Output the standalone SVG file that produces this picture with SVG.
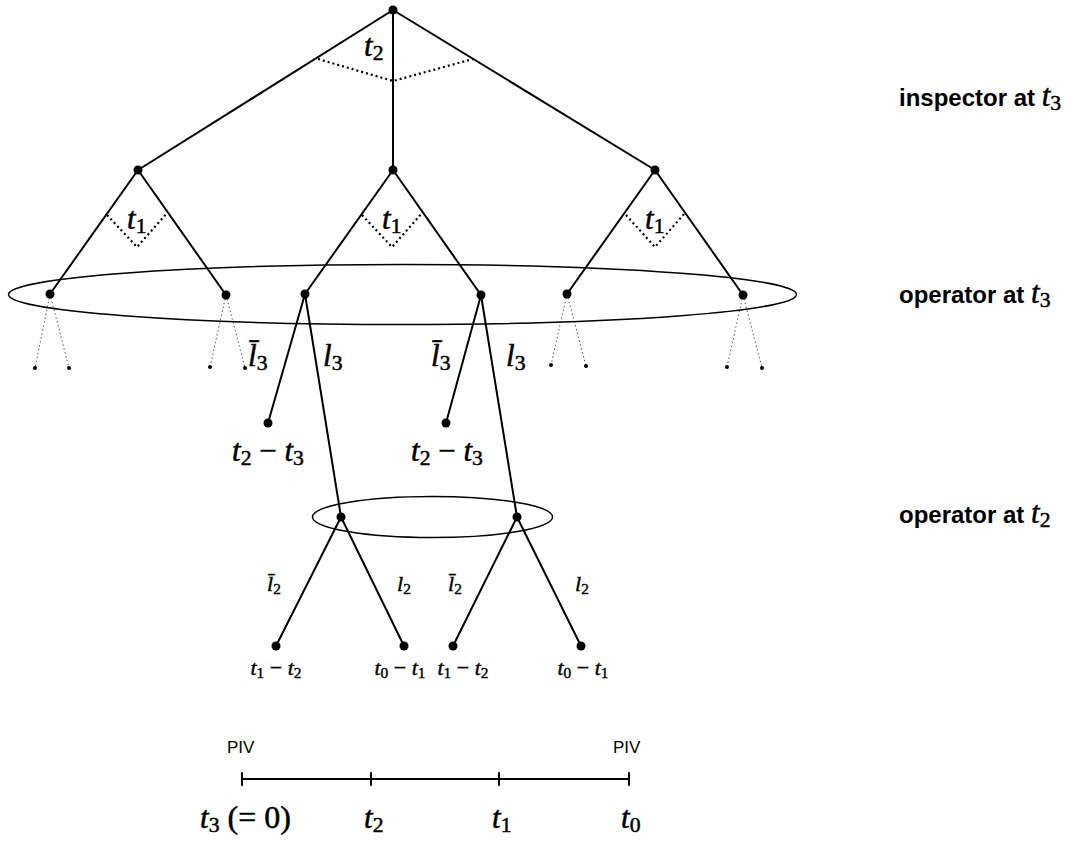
<svg xmlns="http://www.w3.org/2000/svg" width="1075" height="841" viewBox="0 0 1075 841">
<style>
.e{stroke:#000;stroke-width:2;fill:none;stroke-linecap:round}
.dt{stroke:#000;stroke-width:2.2;fill:none;stroke-dasharray:2 3}
.lf{stroke:#555;stroke-width:1;fill:none;stroke-dasharray:1.5 2.5}
.ell{stroke:#000;stroke-width:1.5;fill:none}
.n{fill:#000}
.m{font-family:"Liberation Serif",serif;font-style:italic;font-size:31px;fill:#000;stroke:#000;stroke-width:0.5}
.ms{font-family:"Liberation Serif",serif;font-style:italic;font-size:22px;fill:#000;stroke:#000;stroke-width:0.4}
.mr{font-style:normal}
.sb{font-size:70%;font-style:normal}
.lab{font-family:"Liberation Sans",sans-serif;font-weight:bold;font-size:24px;fill:#000}
.piv{font-family:"Liberation Sans",sans-serif;font-size:17px;fill:#000}
</style>
<g id="connectors">
<line class="e" x1="393" y1="10" x2="138" y2="170"/>
<line class="e" x1="393" y1="10" x2="393" y2="170"/>
<line class="e" x1="393" y1="10" x2="655" y2="170"/>
<polyline class="dt" points="318,59 393,81 473,59"/>
<line class="e" x1="138" y1="170" x2="50" y2="294"/>
<line class="e" x1="138" y1="170" x2="226" y2="295"/>
<line class="e" x1="393" y1="170" x2="305" y2="294"/>
<line class="e" x1="393" y1="170" x2="481" y2="295"/>
<line class="e" x1="655" y1="170" x2="567" y2="294"/>
<line class="e" x1="655" y1="170" x2="743" y2="295"/>
<polyline class="dt" points="107,215 137,247 167,213"/>
<polyline class="dt" points="362,215 392,247 422,213"/>
<polyline class="dt" points="626,215 655,247 685,213"/>
<line class="lf" x1="50" y1="294" x2="35" y2="368"/>
<line class="lf" x1="50" y1="294" x2="69" y2="368"/>
<line class="lf" x1="226" y1="295" x2="210" y2="367"/>
<line class="lf" x1="226" y1="295" x2="245" y2="368"/>
<line class="lf" x1="567" y1="294" x2="551" y2="365"/>
<line class="lf" x1="567" y1="294" x2="586" y2="366"/>
<line class="lf" x1="743" y1="295" x2="727" y2="367"/>
<line class="lf" x1="743" y1="295" x2="762" y2="368"/>
<line class="e" x1="305" y1="294" x2="268" y2="423"/>
<line class="e" x1="305" y1="294" x2="341" y2="517"/>
<line class="e" x1="481" y1="295" x2="446" y2="423"/>
<line class="e" x1="481" y1="295" x2="517" y2="517"/>
<line class="e" x1="341" y1="517" x2="276" y2="646"/>
<line class="e" x1="341" y1="517" x2="404" y2="646"/>
<line class="e" x1="517" y1="517" x2="453" y2="646"/>
<line class="e" x1="517" y1="517" x2="581" y2="646"/>
</g>
<g id="info-sets">
<ellipse class="ell" cx="402.5" cy="294.5" rx="394" ry="30"/>
<ellipse class="ell" cx="432.5" cy="517" rx="120" ry="20.5"/>
</g>
<g id="nodes">
<circle id="root" class="n" cx="393" cy="10" r="4.5"/>
<circle id="n1" class="n" cx="138" cy="170" r="4.5"/>
<circle id="n2" class="n" cx="393" cy="170" r="4.5"/>
<circle id="n3" class="n" cx="655" cy="170" r="4.5"/>
<circle id="n11" class="n" cx="50" cy="294" r="4.5"/>
<circle id="n12" class="n" cx="226" cy="295" r="4.5"/>
<circle id="n21" class="n" cx="305" cy="294" r="4.5"/>
<circle id="n22" class="n" cx="481" cy="295" r="4.5"/>
<circle id="n31" class="n" cx="567" cy="294" r="4.5"/>
<circle id="n32" class="n" cx="743" cy="295" r="4.5"/>
<g id="small-dots">
<circle class="n" cx="35" cy="368" r="2"/><circle class="n" cx="69" cy="368" r="2"/>
<circle class="n" cx="210" cy="367" r="2"/><circle class="n" cx="245" cy="368" r="2"/>
<circle class="n" cx="551" cy="365" r="2"/><circle class="n" cx="586" cy="366" r="2"/>
<circle class="n" cx="727" cy="367" r="2"/><circle class="n" cx="762" cy="368" r="2"/>
</g>
<circle id="n211" class="n" cx="268" cy="423" r="4.5"/>
<circle id="n212" class="n" cx="341" cy="517" r="4.5"/>
<circle id="n221" class="n" cx="446" cy="423" r="4.5"/>
<circle id="n222" class="n" cx="517" cy="517" r="4.5"/>
<circle id="n2121" class="n" cx="276" cy="646" r="4.5"/>
<circle id="n2122" class="n" cx="404" cy="646" r="4.5"/>
<circle id="n2221" class="n" cx="453" cy="646" r="4.5"/>
<circle id="n2222" class="n" cx="581" cy="646" r="4.5"/>
</g>
<g id="labels">
<text class="m" x="364" y="56">t<tspan class="sb" dy="4">2</tspan></text>
<text class="m" x="127" y="229">t<tspan class="sb" dy="4">1</tspan></text>
<text class="m" x="382" y="229">t<tspan class="sb" dy="4">1</tspan></text>
<text class="m" x="645" y="229">t<tspan class="sb" dy="4">1</tspan></text>
<text class="m" x="248" y="366">l̄<tspan class="sb" dy="4">3</tspan></text>
<text class="m" x="323" y="366">l<tspan class="sb" dy="4">3</tspan></text>
<text class="m" x="431" y="366">l̄<tspan class="sb" dy="4">3</tspan></text>
<text class="m" x="506" y="366">l<tspan class="sb" dy="4">3</tspan></text>
<text class="m" x="268" y="461" text-anchor="middle">t<tspan class="sb" dy="4">2</tspan><tspan dy="-4" class="mr"> − </tspan>t<tspan class="sb" dy="4">3</tspan></text>
<text class="m" x="447" y="461" text-anchor="middle">t<tspan class="sb" dy="4">2</tspan><tspan dy="-4" class="mr"> − </tspan>t<tspan class="sb" dy="4">3</tspan></text>
<text class="ms" x="267" y="591">l̄<tspan class="sb" dy="3">2</tspan></text>
<text class="ms" x="397" y="591">l<tspan class="sb" dy="3">2</tspan></text>
<text class="ms" x="448" y="591">l̄<tspan class="sb" dy="3">2</tspan></text>
<text class="ms" x="575" y="591">l<tspan class="sb" dy="3">2</tspan></text>
<text class="ms" x="276" y="675" text-anchor="middle">t<tspan class="sb" dy="3">1</tspan><tspan dy="-3" class="mr"> − </tspan>t<tspan class="sb" dy="3">2</tspan></text>
<text class="ms" x="400" y="675" text-anchor="middle">t<tspan class="sb" dy="3">0</tspan><tspan dy="-3" class="mr"> − </tspan>t<tspan class="sb" dy="3">1</tspan></text>
<text class="ms" x="463" y="675" text-anchor="middle">t<tspan class="sb" dy="3">1</tspan><tspan dy="-3" class="mr"> − </tspan>t<tspan class="sb" dy="3">2</tspan></text>
<text class="ms" x="583" y="675" text-anchor="middle">t<tspan class="sb" dy="3">0</tspan><tspan dy="-3" class="mr"> − </tspan>t<tspan class="sb" dy="3">1</tspan></text>
<text class="lab" x="899" y="106">inspector at <tspan class="m" font-weight="normal">t<tspan class="sb" dy="4">3</tspan></tspan></text>
<text class="lab" x="899" y="303">operator at <tspan class="m" font-weight="normal">t<tspan class="sb" dy="4">3</tspan></tspan></text>
<text class="lab" x="899" y="523">operator at <tspan class="m" font-weight="normal">t<tspan class="sb" dy="4">2</tspan></tspan></text>
</g>
<g id="timeline">
<line class="e" x1="242" y1="779" x2="629" y2="779"/>
<line class="e" x1="242" y1="773" x2="242" y2="785"/>
<line class="e" x1="371" y1="773" x2="371" y2="785"/>
<line class="e" x1="499" y1="773" x2="499" y2="785"/>
<line class="e" x1="629" y1="773" x2="629" y2="785"/>
<text class="piv" x="227" y="753">PIV</text>
<text class="piv" x="613" y="753">PIV</text>
<text class="m" x="200" y="828">t<tspan class="sb" dy="4">3</tspan><tspan dy="-4" class="mr" font-size="32px"> (= 0)</tspan></text>
<text class="m" x="364" y="828">t<tspan class="sb" dy="4">2</tspan></text>
<text class="m" x="492" y="828">t<tspan class="sb" dy="4">1</tspan></text>
<text class="m" x="621" y="828">t<tspan class="sb" dy="4">0</tspan></text>
</g>
</svg>
